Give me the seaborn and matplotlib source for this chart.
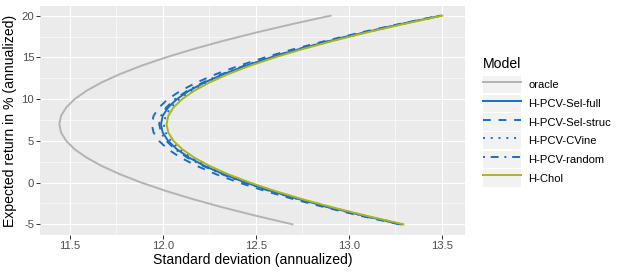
import numpy as np
import pandas as pd
import matplotlib
matplotlib.use("Agg")
import matplotlib.pyplot as plt
from matplotlib.lines import Line2D
from matplotlib.patches import Rectangle
from matplotlib.legend_handler import HandlerTuple
import seaborn as sns

# expected return (y) grid shared by all frontiers
ret = [-5, -4, -3, -2, -1, 0, 1, 2, 3, 4, 5, 6, 7,
       8, 9, 10, 11, 12, 13, 14, 15, 16, 17, 18, 19, 20]

# standard deviation, one list per model
sd_oracle = [12.697, 12.505, 12.327, 12.164, 12.016, 11.884, 11.769, 11.670, 11.589,
             11.525, 11.480, 11.452, 11.443, 11.452, 11.480, 11.525, 11.589, 11.670,
             11.769, 11.884, 12.016, 12.164, 12.327, 12.505, 12.697, 12.902]
sd_sel_full = [13.283, 13.086, 12.902, 12.734, 12.581, 12.445, 12.326, 12.224, 12.140,
               12.075, 12.028, 11.999, 11.990, 11.999, 12.028, 12.075, 12.140, 12.224,
               12.326, 12.445, 12.581, 12.734, 12.902, 13.086, 13.283, 13.495]
sd_sel_struc = [13.271, 13.067, 12.879, 12.705, 12.549, 12.409, 12.286, 12.182, 12.095,
                12.027, 11.979, 11.950, 11.940, 11.950, 11.979, 12.027, 12.095, 12.182,
                12.286, 12.409, 12.549, 12.705, 12.879, 13.067, 13.271, 13.488]
sd_cvine = [13.289, 13.092, 12.910, 12.743, 12.592, 12.457, 12.339, 12.238, 12.154,
            12.089, 12.042, 12.015, 12.005, 12.015, 12.042, 12.089, 12.154, 12.238,
            12.339, 12.457, 12.592, 12.743, 12.910, 13.092, 13.289, 13.499]
sd_random = [13.280, 13.081, 12.896, 12.728, 12.574, 12.437, 12.318, 12.216, 12.131,
             12.065, 12.018, 11.990, 11.980, 11.990, 12.018, 12.065, 12.131, 12.216,
             12.318, 12.437, 12.574, 12.728, 12.896, 13.081, 13.280, 13.493]
sd_chol = [13.294, 13.099, 12.918, 12.752, 12.602, 12.468, 12.351, 12.251, 12.168,
           12.104, 12.057, 12.029, 12.020, 12.029, 12.057, 12.104, 12.168, 12.251,
           12.351, 12.468, 12.602, 12.752, 12.918, 13.099, 13.294, 13.503]

models = ["oracle", "H-PCV-Sel-full", "H-PCV-Sel-struc", "H-PCV-CVine", "H-PCV-random", "H-Chol"]
series = [sd_oracle, sd_sel_full, sd_sel_struc, sd_cvine, sd_random, sd_chol]

BLUE = "#1A6DC6"
palette = {
    "oracle": "#B3B3B3",
    "H-PCV-Sel-full": BLUE,
    "H-PCV-Sel-struc": BLUE,
    "H-PCV-CVine": BLUE,
    "H-PCV-random": BLUE,
    "H-Chol": "#ADB51C",
}
dashes = {
    "oracle": "",
    "H-PCV-Sel-full": "",
    "H-PCV-Sel-struc": (4, 4),
    "H-PCV-CVine": (1, 3),
    "H-PCV-random": (1, 3, 4, 3),
    "H-Chol": "",
}

df = pd.concat(
    [pd.DataFrame({"sd": s, "ret": ret, "Model": m}) for m, s in zip(models, series)],
    ignore_index=True,
)

SMALL = 8.1
MEDIUM = 10.1
plt.rcParams["font.family"] = ["Liberation Sans", "DejaVu Sans"]

W, H = 623, 273
fig = plt.figure(figsize=(W / 100, H / 100), dpi=100)
ax = fig.add_axes([40 / W, (H - 235) / H, (465 - 40) / W, (235 - 6) / H])
ax.set_facecolor("#EBEBEB")
for sp in ax.spines.values():
    sp.set_visible(False)

sns.lineplot(
    data=df, x="sd", y="ret", hue="Model", style="Model",
    palette=palette, dashes=dashes, hue_order=models, style_order=models,
    sort=False, estimator=None, linewidth=1.4, ax=ax, legend=False,
)

ax.set_xlim(11.339, 13.625)
ax.set_ylim(-6.28, 21.16)
ax.set_xticks([11.5, 12.0, 12.5, 13.0, 13.5])
ax.set_xticklabels(["11.5", "12.0", "12.5", "13.0", "13.5"])
ax.set_xticks([11.75, 12.25, 12.75, 13.25], minor=True)
ax.set_yticks([-5, 0, 5, 10, 15, 20])
ax.set_yticklabels(["-5", "0", "5", "10", "15", "20"])
ax.set_yticks([-2.5, 2.5, 7.5, 12.5, 17.5], minor=True)
ax.grid(which="major", color="white", linewidth=0.8)
ax.grid(which="minor", color="white", linewidth=0.4)
ax.set_axisbelow(True)
ax.tick_params(which="major", length=2.6, width=0.7, color="#333333",
               labelsize=SMALL, labelcolor="#4D4D4D", pad=1.5)
ax.tick_params(which="minor", length=0)

ax.set_xlabel("Standard deviation (annualized)", fontsize=MEDIUM, color="black", labelpad=2)
ax.set_ylabel("Expected return in % (annualized)", fontsize=MEDIUM, color="black", labelpad=3)

handles = []
for m in models:
    ln = Line2D([], [], color=palette[m], linewidth=1.4)
    if dashes[m]:
        ln.set_dashes(dashes[m])
    bg = Rectangle((0, 0), 1, 1, facecolor="#F2F2F2", edgecolor="none")
    handles.append((bg, ln))

leg = fig.legend(
    handles, models, handler_map={tuple: HandlerTuple(ndivide=1, pad=0)},
    loc="upper left", bbox_to_anchor=(482.7 / W, 1 - 57.5 / H),
    frameon=False, fontsize=SMALL, title="Model", title_fontsize=MEDIUM,
    alignment="left", borderpad=0, borderaxespad=0,
    handlelength=3.38, handleheight=1.99, labelspacing=0.12, handletextpad=0.65,
)
# a bit more room between the legend title and the keys
leg._legend_box.sep = 3.3

fig.savefig("out.png", dpi=100)
